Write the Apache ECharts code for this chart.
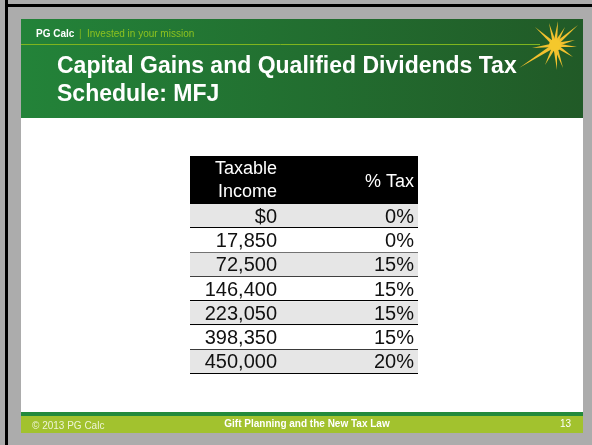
<html>
<head>
    <meta charset="utf-8">
    <script src="https://cdn.jsdelivr.net/npm/echarts@6/dist/echarts.min.js"></script>
</head>
<body style="margin:0;background:#acacac">
<div id="main" style="width:592px;height:445px;"></div>
</body>
<script type="text/javascript">
    // table data
    var columnNames = ['Taxable\nIncome', '% Tax'];
    var incomes = [0, 17850, 72500, 146400, 223050, 398350, 450000];
    var taxRates = [0, 0, 15, 15, 15, 15, 20];
    var rowKeys = ['r1', 'r2', 'r3', 'r4', 'r5', 'r6', 'r7'];

    var FONT = 'Liberation Sans, Arial, sans-serif';

    function fmtIncome(v, i) {
        return i === 0 ? '$' + v : v.toLocaleString('en-US');
    }

    function cellRenderer(fmt) {
        return function (params, api) {
            var row = api.value(0);
            var c = api.coord([0, row]);
            var s = api.size([1, 1]);
            var x0 = c[0] - s[0] / 2, y0 = c[1] - s[1] / 2;
            var yLine = Math.round(y0 + s[1]) - 0.5;
            return {
                type: 'group',
                children: [{
                    type: 'rect',
                    shape: {x: x0, y: y0, width: s[0], height: s[1]},
                    style: {fill: row % 2 === 0 ? '#e6e6e6' : '#ffffff'}
                }, {
                    type: 'line',
                    shape: {x1: x0, y1: yLine, x2: x0 + s[0], y2: yLine},
                    style: {stroke: '#000', lineWidth: 1}
                }, {
                    type: 'text',
                    style: {
                        x: x0 + s[0] - 4, y: c[1] + 1,
                        text: fmt(api.value(1), row),
                        fill: '#111', font: '20px ' + FONT,
                        align: 'right', verticalAlign: 'middle'
                    }
                }]
            };
        };
    }

    // star rays [dx, dy]
    var rays = [[-20, -18], [-6, -22], [3, -24], [10, -18], [23, -20], [20, -5], [22, 2],
        [18, 12], [8, 23], [2, 25], [-10, 20], [-36, 23], [-23, 3]];
    var sx = 555, sy = 45;
    var starEls = rays.map(function (r) {
        var len = Math.sqrt(r[0] * r[0] + r[1] * r[1]);
        var nx = -r[1] / len * 2, ny = r[0] / len * 2;
        return {
            type: 'polygon',
            shape: {points: [[sx + nx, sy + ny], [sx + r[0], sy + r[1]], [sx - nx, sy - ny]]},
            style: {fill: '#f2c12e'}
        };
    });
    starEls.push({type: 'circle', shape: {cx: sx, cy: sy, r: 6}, style: {fill: '#f5c82c'}});

    var myChart = echarts.init(document.getElementById('main'));

    var option = {
        backgroundColor: '#acacac',
        animation: false,
        grid: [
            {left: 190, top: 204, width: 91, height: 170},
            {left: 281, top: 204, width: 137, height: 170}
        ],
        xAxis: [
            {gridIndex: 0, type: 'category', data: ['income'], show: false},
            {gridIndex: 1, type: 'category', data: ['tax'], show: false}
        ],
        yAxis: [
            {gridIndex: 0, type: 'category', data: rowKeys, inverse: true, show: false},
            {gridIndex: 1, type: 'category', data: rowKeys, inverse: true, show: false}
        ],
        graphic: [
            // frame
            {type: 'rect', shape: {x: 5, y: 0, width: 3, height: 445}, style: {fill: '#000'}},
            {type: 'rect', shape: {x: 5, y: 4, width: 587, height: 3}, style: {fill: '#000'}},
            // slide
            {type: 'rect', shape: {x: 21, y: 19, width: 562, height: 414}, style: {fill: '#fff'}},
            {
                type: 'rect', shape: {x: 21, y: 19, width: 562, height: 99},
                style: {
                    fill: new echarts.graphic.LinearGradient(0, 0, 1, 0, [
                        {offset: 0, color: '#238339'}, {offset: 1, color: '#215a27'}
                    ])
                }
            },
            {type: 'line', shape: {x1: 21, y1: 44.5, x2: 540, y2: 44.5}, style: {stroke: '#7fb51e', lineWidth: 1}},
            {type: 'text', style: {x: 36, y: 34, text: 'PG Calc', fill: '#fff', font: 'bold 10px ' + FONT, verticalAlign: 'middle'}},
            {type: 'text', style: {x: 79, y: 34, text: '|', fill: '#7fb51e', font: '10px ' + FONT, verticalAlign: 'middle'}},
            {type: 'text', style: {x: 87, y: 34, text: 'Invested in your mission', fill: '#8dc21f', font: '10px ' + FONT, verticalAlign: 'middle'}},
            {type: 'text', style: {x: 57, y: 67, text: 'Capital Gains and Qualified Dividends Tax', fill: '#fff', font: 'bold 23px ' + FONT, verticalAlign: 'middle'}},
            {type: 'text', style: {x: 57, y: 95, text: 'Schedule: MFJ', fill: '#fff', font: 'bold 23px ' + FONT, verticalAlign: 'middle'}},
            {type: 'group', children: starEls},
            // table header
            {type: 'rect', shape: {x: 190, y: 156, width: 228, height: 48}, style: {fill: '#000'}},
            {type: 'text', style: {x: 277, y: 181, text: columnNames[0], fill: '#fff', font: '18px ' + FONT, align: 'right', verticalAlign: 'middle', lineHeight: 23}},
            {type: 'text', style: {x: 414, y: 182, text: columnNames[1], fill: '#fff', font: '18px ' + FONT, align: 'right', verticalAlign: 'middle'}},
            // footer
            {type: 'rect', shape: {x: 21, y: 412, width: 562, height: 4}, style: {fill: '#238a3c'}},
            {type: 'rect', shape: {x: 21, y: 416, width: 562, height: 17}, style: {fill: '#a2c22e'}},
            {type: 'text', style: {x: 32, y: 426, text: '\u00a9 2013 PG Calc', fill: '#eef4d6', font: '10px ' + FONT, verticalAlign: 'middle'}},
            {type: 'text', style: {x: 307, y: 424, text: 'Gift Planning and the New Tax Law', fill: '#fff', font: 'bold 10px ' + FONT, align: 'center', verticalAlign: 'middle'}},
            {type: 'text', style: {x: 571, y: 424, text: '13', fill: '#fff', font: '10px ' + FONT, align: 'right', verticalAlign: 'middle'}}
        ],
        series: [{
            type: 'custom',
            xAxisIndex: 0, yAxisIndex: 0,
            renderItem: cellRenderer(fmtIncome),
            encode: {y: 0},
            data: incomes.map(function (v, i) { return [i, v]; })
        }, {
            type: 'custom',
            xAxisIndex: 1, yAxisIndex: 1,
            renderItem: cellRenderer(function (v) { return v + '%'; }),
            encode: {y: 0},
            data: taxRates.map(function (v, i) { return [i, v]; })
        }]
    };

    myChart.setOption(option);
</script>
</html>
